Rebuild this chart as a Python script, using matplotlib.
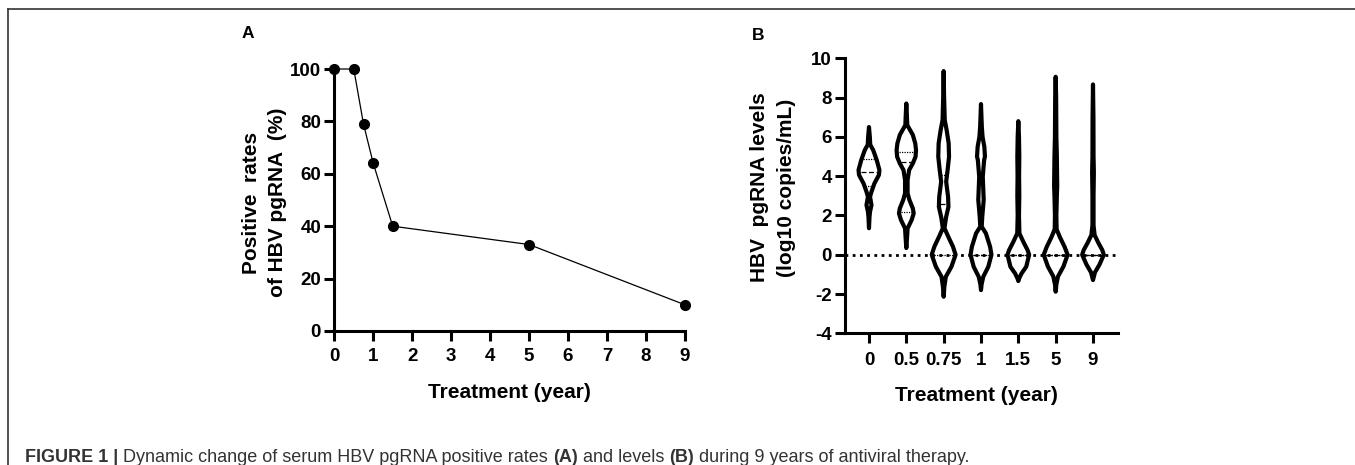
import numpy as np
import matplotlib
matplotlib.use("Agg")
import matplotlib.pyplot as plt
from matplotlib.lines import Line2D

plt.rcParams['font.family'] = ['Liberation Sans', 'DejaVu Sans']
plt.rcParams['axes.unicode_minus'] = False

# --- panel A data ---
years_a = [0, 0.5, 0.75, 1, 1.5, 5, 9]
positive_rate = [100, 100, 79, 64, 40, 33, 10]

# --- panel B data (violin outlines) ---
groups_b = ['0', '0.5', '0.75', '1', '1.5', '5', '9']
# level (log10 copies/mL) and relative half-width of each violin
v0_y = [6.5, 6.0, 5.6, 5.33, 4.82, 4.31, 4.06, 3.63, 3.21, 2.95, 2.53, 2.19, 1.93, 1.35]
v0_w = [0.0, 0.08, 0.12, 0.40, 0.74, 1.0, 0.95, 0.52, 0.24, 0.10, 0.24, 0.10, 0.05, 0.0]
v1_y = [7.7, 7.2, 6.6, 6.1, 5.67, 5.33, 4.99, 4.65, 4.31, 3.8, 3.13, 2.79, 2.36, 2.11, 1.77, 1.34, 0.92, 0.34]
v1_w = [0.0, 0.05, 0.10, 0.67, 0.92, 1.0, 0.95, 0.67, 0.29, 0.13, 0.13, 0.32, 0.67, 0.76, 0.55, 0.13, 0.08, 0.0]
v2_y = [9.35, 8.2, 6.86, 6.35, 5.67, 4.99, 4.31, 3.72, 2.95, 2.44, 1.9, 1.35, 0.9, 0.41, 0.0, -0.61, -1.12, -1.63, -2.14]
v2_w = [0.0, 0.03, 0.09, 0.25, 0.42, 0.45, 0.33, 0.21, 0.37, 0.40, 0.20, 0.07, 0.40, 0.78, 1.0, 0.65, 0.18, 0.06, 0.0]
v3_y = [7.67, 6.52, 6.0, 5.5, 5.0, 4.82, 3.97, 2.79, 1.93, 1.43, 1.09, 0.41, 0.0, -0.61, -1.12, -1.5, -1.8]
v3_w = [0.0, 0.08, 0.15, 0.32, 0.38, 0.30, 0.17, 0.26, 0.12, 0.07, 0.47, 0.87, 1.0, 0.70, 0.22, 0.06, 0.0]
v4_y = [6.8, 6.0, 5.0, 4.0, 3.0, 2.0, 1.09, 0.66, 0.24, 0.0, -0.61, -0.95, -1.2, -1.34]
v4_w = [0.0, 0.06, 0.09, 0.07, 0.09, 0.06, 0.10, 0.46, 0.85, 1.0, 0.73, 0.30, 0.08, 0.0]
v5_y = [9.06, 8.0, 6.0, 5.0, 4.0, 3.5, 3.0, 2.0, 1.3, 0.9, 0.4, 0.0, -0.6, -1.1, -1.5, -1.88]
v5_w = [0.0, 0.04, 0.06, 0.10, 0.12, 0.13, 0.10, 0.06, 0.08, 0.35, 0.75, 1.0, 0.65, 0.20, 0.06, 0.0]
v6_y = [8.67, 7.0, 5.0, 4.2, 3.0, 1.5, 1.0, 0.6, 0.25, 0.0, -0.5, -0.9, -1.29]
v6_w = [0.0, 0.04, 0.05, 0.08, 0.05, 0.05, 0.15, 0.50, 0.85, 1.0, 0.60, 0.18, 0.0]
# full violin width (category units) at the widest point
violin_width = [0.56, 0.52, 0.64, 0.56, 0.58, 0.64, 0.58]
medians_b = [4.2, 4.74, 2.58, 0.0, 0.0, 0.0, 0.0]
quartiles_b = [[3.5, 4.86], [2.16, 5.21], [0.0, 4.06], [0.0, 3.95], [0.0, 0.0], [0.0, 0.0], [0.0, 0.0]]

profiles_y = [v0_y, v1_y, v2_y, v3_y, v4_y, v5_y, v6_y]
profiles_w = [v0_w, v1_w, v2_w, v3_w, v4_w, v5_w, v6_w]

fig = plt.figure(figsize=(13.55, 4.65), dpi=100)

tick_kw = dict(width=2.2, length=7.5, labelsize=13.5)

# ---------------- panel A ----------------
ax_a = fig.add_axes([0.2467, 0.2882, 0.2588, 0.5634])
ax_a.plot(years_a, positive_rate, color='black', lw=0.9, marker='o',
          markersize=7, clip_on=False, zorder=3)
ax_a.set_xlim(0, 9)
ax_a.set_ylim(0, 100)
ax_a.set_xticks(range(0, 10))
ax_a.set_yticks(range(0, 101, 20))
for side in ['top', 'right']:
    ax_a.spines[side].set_visible(False)
for side in ['left', 'bottom']:
    ax_a.spines[side].set_linewidth(2.2)
ax_a.tick_params(axis='x', pad=5, **tick_kw)
ax_a.tick_params(axis='y', pad=2, **tick_kw)
for lab in ax_a.get_xticklabels() + ax_a.get_yticklabels():
    lab.set_fontweight('bold')
ax_a.set_ylabel('Positive  rates\nof HBV pgRNA  (%)', fontsize=15,
                fontweight='bold', linespacing=1.45)
ax_a.yaxis.set_label_coords(-0.135, 0.49)
ax_a.set_xlabel('Treatment (year)', fontsize=15, fontweight='bold')
ax_a.xaxis.set_label_coords(0.5, -0.2)

# ---------------- panel B ----------------
ax_b = fig.add_axes([0.6236, 0.2832, 0.2015, 0.5914])
pos_b = np.arange(len(groups_b))
vpstats = []
for i in range(len(groups_b)):
    vpstats.append(dict(coords=np.array(profiles_y[i]), vals=np.array(profiles_w[i]),
                        mean=medians_b[i], median=medians_b[i],
                        min=min(profiles_y[i]), max=max(profiles_y[i])))
parts = ax_b.violin(vpstats, positions=pos_b, widths=violin_width,
                    showextrema=False, showmeans=False, showmedians=False)
for body in parts['bodies']:
    body.set_facecolor('none')
    body.set_edgecolor('black')
    body.set_linewidth(3.0)
    body.set_alpha(1)
    body.set_joinstyle('round')
    body.set_zorder(3)

ax_b.axhline(0, color='black', lw=2, ls=(0, (1, 1.6)), zorder=2)

for i in range(len(groups_b)):
    ys = np.array(profiles_y[i])[::-1]
    ws = np.array(profiles_w[i])[::-1]
    scale = 0.5 * violin_width[i] / ws.max()
    for lvl, style in [(medians_b[i], (0, (4, 2)))] + [(q, (0, (1, 1))) for q in quartiles_b[i]]:
        hw = np.interp(lvl, ys, ws) * scale * 0.8
        ax_b.plot([i - hw, i + hw], [lvl, lvl], color='black', lw=0.9, ls=style, zorder=4)

ax_b.set_xlim(-0.643, 6.67)
ax_b.set_ylim(-4, 10)
ax_b.set_yticks(range(-4, 11, 2))
ax_b.set_xticks(pos_b)
ax_b.set_xticklabels(groups_b)
for side in ['top', 'right']:
    ax_b.spines[side].set_visible(False)
for side in ['left', 'bottom']:
    ax_b.spines[side].set_linewidth(2.2)
ax_b.tick_params(axis='x', pad=6, **tick_kw)
ax_b.tick_params(axis='y', pad=2, **tick_kw)
for lab in ax_b.get_xticklabels() + ax_b.get_yticklabels():
    lab.set_fontweight('bold')
ax_b.set_ylabel('HBV  pgRNA levels\n(log10 copies/mL)', fontsize=15,
                fontweight='bold', linespacing=1.5)
ax_b.yaxis.set_label_coords(-0.18, 0.53)
ax_b.set_xlabel('Treatment (year)', fontsize=15, fontweight='bold')
ax_b.xaxis.set_label_coords(0.482, -0.19)

# panel letters
fig.text(247.7 / 1355, 1 - 34 / 465, 'A', fontsize=12.5, fontweight='bold',
         ha='center', va='center')
fig.text(758 / 1355, 1 - 35 / 465, 'B', fontsize=12.5, fontweight='bold',
         ha='center', va='center')

# frame lines (top and left)
fig.add_artist(Line2D([8 / 1355, 1], [1 - 9 / 465, 1 - 9 / 465], color='#333333', lw=1.2))
fig.add_artist(Line2D([8 / 1355, 8 / 1355], [0, 1 - 9 / 465], color='#333333', lw=1.2))

# caption with mixed weights
caption = [('FIGURE 1 | ', 'bold'), ('Dynamic change of serum HBV pgRNA positive rates ', 'normal'),
           ('(A)', 'bold'), (' and levels ', 'normal'), ('(B)', 'bold'),
           (' during 9 years of antiviral therapy.', 'normal')]
fig.canvas.draw()
renderer = fig.canvas.get_renderer()
x_px = 25
for txt, wt in caption:
    t = fig.text(x_px / 1355, 1 - 462 / 465, txt, fontsize=13.0, fontweight=wt,
                 color='#333333', ha='left', va='baseline')
    bb = t.get_window_extent(renderer=renderer)
    x_px += bb.width

fig.savefig('out.png', dpi=100)
